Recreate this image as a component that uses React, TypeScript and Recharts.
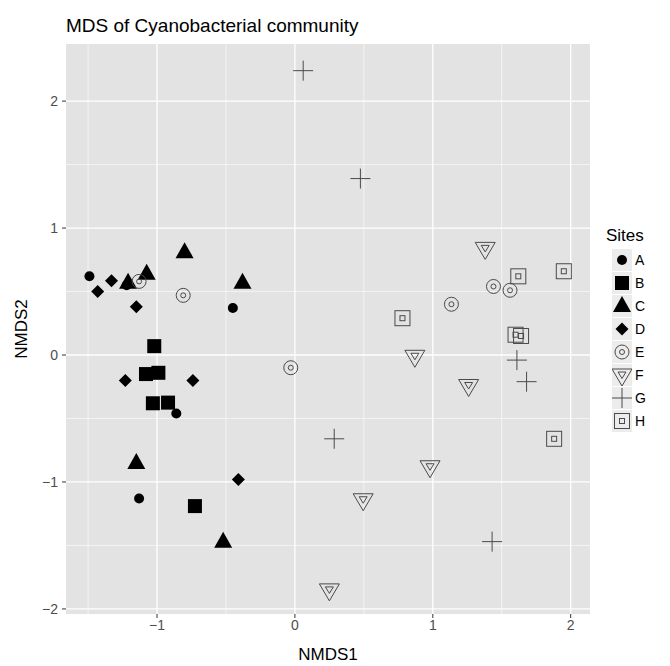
import {
    ScatterChart,
    Scatter,
    XAxis,
    YAxis,
    CartesianGrid,
    Legend
} from "recharts";

type Pt = { x: number; y: number };

const sites = ["A", "B", "C", "D", "E", "F", "G", "H"];

const siteA: Pt[] = [
    { x: -1.49, y: 0.62 },
    { x: -1.22, y: 0.55 },
    { x: -0.45, y: 0.37 },
    { x: -0.86, y: -0.46 },
    { x: -1.13, y: -1.13 }
];
const siteB: Pt[] = [
    { x: -1.02, y: 0.07 },
    { x: -1.08, y: -0.15 },
    { x: -0.99, y: -0.14 },
    { x: -1.03, y: -0.38 },
    { x: -0.92, y: -0.375 },
    { x: -0.725, y: -1.19 }
];
const siteC: Pt[] = [
    { x: -1.21, y: 0.57 },
    { x: -1.075, y: 0.64 },
    { x: -0.8, y: 0.81 },
    { x: -0.38, y: 0.57 },
    { x: -1.15, y: -0.85 },
    { x: -0.52, y: -1.47 }
];
const siteD: Pt[] = [
    { x: -1.33, y: 0.585 },
    { x: -1.43, y: 0.5 },
    { x: -1.15, y: 0.38 },
    { x: -1.23, y: -0.2 },
    { x: -0.74, y: -0.2 },
    { x: -0.41, y: -0.98 }
];
const siteE: Pt[] = [
    { x: -1.13, y: 0.58 },
    { x: -0.81, y: 0.47 },
    { x: 1.44, y: 0.54 },
    { x: 1.56, y: 0.51 },
    { x: 1.135, y: 0.4 },
    { x: -0.03, y: -0.1 }
];
const siteF: Pt[] = [
    { x: 1.38, y: 0.84 },
    { x: 0.87, y: -0.01 },
    { x: 1.26, y: -0.24 },
    { x: 0.98, y: -0.88 },
    { x: 0.495, y: -1.14 },
    { x: 0.25, y: -1.85 }
];
const siteG: Pt[] = [
    { x: 0.06, y: 2.24 },
    { x: 0.475, y: 1.39 },
    { x: 1.61, y: -0.04 },
    { x: 1.68, y: -0.21 },
    { x: 0.285, y: -0.66 },
    { x: 1.43, y: -1.47 }
];
const siteH: Pt[] = [
    { x: 1.62, y: 0.62 },
    { x: 1.95, y: 0.66 },
    { x: 0.78, y: 0.29 },
    { x: 1.6, y: 0.16 },
    { x: 1.64, y: 0.15 },
    { x: 1.88, y: -0.66 }
];

const siteData: Record<string, Pt[]> = {
    A: siteA, B: siteB, C: siteC, D: siteD,
    E: siteE, F: siteF, G: siteG, H: siteH
};

const xTicks = [-1, 0, 1, 2];
const yTicks = [-2, -1, 0, 1, 2];
const xMinor = [-1.5, -0.5, 0.5, 1.5];
const yMinor = [-1.5, -0.5, 0.5, 1.5];

const FONT = '"Liberation Sans", Arial, sans-serif';
const OPEN = "#4a4a4a";

const fmt = (v: number) => (v < 0 ? `\u2212${Math.abs(v)}` : `${v}`);

function Marker({ site, cx, cy }: { site: string; cx: number; cy: number }) {
    switch (site) {
        case "A":
            return <circle cx={cx} cy={cy} r={5} fill="#000" />;
        case "B":
            return <rect x={cx - 7} y={cy - 7} width={14} height={14} fill="#000" />;
        case "C":
            return <polygon points={`${cx},${cy - 10} ${cx - 9},${cy + 6} ${cx + 9},${cy + 6}`} fill="#000" />;
        case "D":
            return <polygon points={`${cx},${cy - 6.5} ${cx + 6.5},${cy} ${cx},${cy + 6.5} ${cx - 6.5},${cy}`} fill="#000" />;
        case "E":
            return (
                <g fill="none" stroke={OPEN} strokeWidth={1}>
                    <circle cx={cx} cy={cy} r={7} />
                    <circle cx={cx} cy={cy} r={2.5} />
                </g>
            );
        case "F":
            return (
                <g fill="none" stroke={OPEN} strokeWidth={1}>
                    <polygon points={`${cx - 10},${cy - 6} ${cx + 10},${cy - 6} ${cx},${cy + 11}`} />
                    <polygon points={`${cx - 4},${cy - 3} ${cx + 4},${cy - 3} ${cx},${cy + 3.5}`} />
                </g>
            );
        case "G":
            return (
                <g stroke={OPEN} strokeWidth={1}>
                    <line x1={cx - 10} y1={cy} x2={cx + 10} y2={cy} />
                    <line x1={cx} y1={cy - 10} x2={cx} y2={cy + 10} />
                </g>
            );
        default:
            return (
                <g fill="none" stroke={OPEN} strokeWidth={1}>
                    <rect x={cx - 7.5} y={cy - 7.5} width={15} height={15} />
                    <rect x={cx - 2.5} y={cy - 2.5} width={5} height={5} />
                </g>
            );
    }
}

function SitesLegend() {
    return (
        <div style={{ fontFamily: FONT, color: "#000" }}>
            <div style={{ fontSize: 17, marginBottom: 2, marginLeft: -6 }}>Sites</div>
            {sites.map((s) => (
                <div key={s} style={{ display: "flex", alignItems: "center", height: 23 }}>
                    <svg width={20} height={22} style={{ display: "block" }}>
                        <rect x={0} y={0} width={20} height={22} fill="#ececec" />
                        <Marker site={s} cx={10} cy={11} />
                    </svg>
                    <span style={{ fontSize: 14, marginLeft: 3 }}>{s}</span>
                </div>
            ))}
        </div>
    );
}

export default function App() {
    return (
        <div style={{ position: "absolute", left: 0, top: 0, width: 670, height: 666, background: "#fff" }}>

            {/* Title */}
            <div style={{ position: "absolute", left: 66, top: 15, fontFamily: FONT, fontSize: 19, color: "#000", whiteSpace: "nowrap" }}>
                MDS of Cyanobacterial community
            </div>

            <ScatterChart
                width={670}
                height={666}
                margin={{ top: 44, right: 80, bottom: 0, left: 0 }}
            >
                <CartesianGrid
                    fill="#e3e3e3"
                    stroke="#ffffff"
                    strokeWidth={0.6}
                    horizontalValues={yMinor}
                    verticalValues={xMinor}
                />
                <CartesianGrid
                    stroke="#ffffff"
                    strokeWidth={1.3}
                    horizontalValues={yTicks}
                    verticalValues={xTicks}
                />

                <XAxis
                    type="number"
                    dataKey="x"
                    domain={[-1.66, 2.14]}
                    ticks={xTicks}
                    allowDataOverflow
                    height={52}
                    axisLine={false}
                    tickSize={4}
                    tickLine={{ stroke: "#333" }}
                    tick={{ fontSize: 14, fill: "#4d4d4d", fontFamily: FONT }}
                    tickFormatter={fmt}
                    label={{ value: "NMDS1", position: "insideBottom", offset: 6, style: { fontSize: 17, fill: "#000", fontFamily: FONT } }}
                />

                <YAxis
                    type="number"
                    dataKey="y"
                    domain={[-2.04, 2.45]}
                    ticks={yTicks}
                    allowDataOverflow
                    width={66}
                    axisLine={false}
                    tickSize={4}
                    tickMargin={4}
                    tickLine={{ stroke: "#333" }}
                    tick={{ fontSize: 14, fill: "#4d4d4d", fontFamily: FONT }}
                    tickFormatter={fmt}
                    label={{ value: "NMDS2", angle: -90, position: "insideLeft", offset: 21, style: { fontSize: 17, fill: "#000", fontFamily: FONT, textAnchor: "middle" } }}
                />

                <Legend
                    layout="horizontal"
                    align="center"
                    verticalAlign="middle"
                    content={() => <SitesLegend />}
                    wrapperStyle={{ left: 612, top: 226, width: 58 }}
                />

                {sites.map((s) => (
                    <Scatter
                        key={s}
                        name={s}
                        data={siteData[s]}
                        isAnimationActive={false}
                        shape={(p: any) => <Marker site={s} cx={p.cx} cy={p.cy} />}
                    />
                ))}

            </ScatterChart>

        </div>
    );
}
